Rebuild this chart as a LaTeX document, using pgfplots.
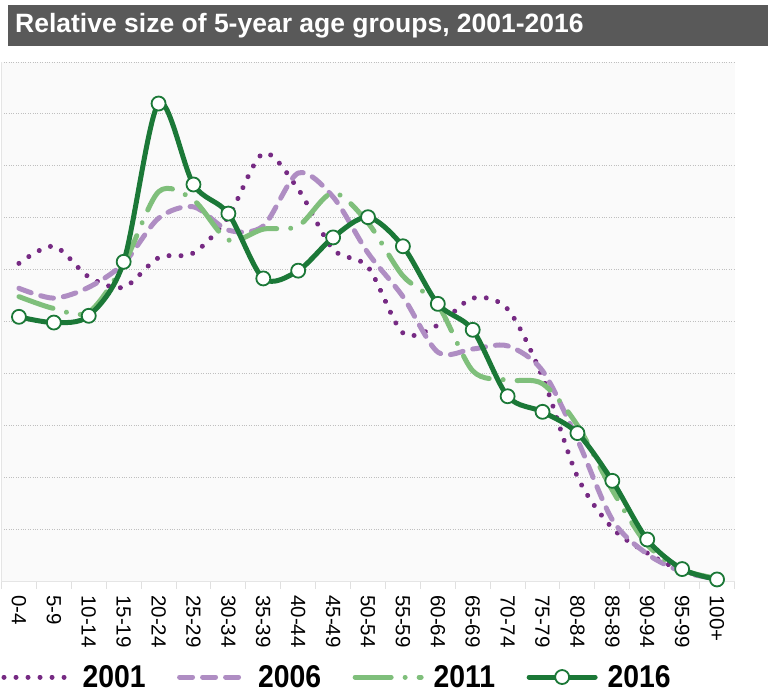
\documentclass[border=0pt]{standalone}
\usepackage{pgfplots}
\usepackage{pgfplotstable}
\pgfplotsset{compat=1.18}
\usepackage{fontspec}
\setmainfont{Liberation Sans}
\newfontfamily\legfont[FakeStretch=0.9]{Liberation Sans Bold}
\definecolor{c01}{HTML}{762A83}
\definecolor{c06}{HTML}{AF8DC3}
\definecolor{c11}{HTML}{7FBF7B}
\definecolor{c16}{HTML}{1B7837}
\definecolor{titlebg}{HTML}{595959}
\definecolor{plotbg}{HTML}{FAFAFA}

\pgfplotstableread{
x  y2001 y2006 y2011 y2016
0  6.12  5.64  5.48  5.09
1  6.45  5.45  5.25  4.98
2  5.86  5.66  5.18  5.11
3  5.66  6.12  6.10  6.15
4  6.23  6.99  7.50  9.20
5  6.32  7.21  7.34  7.64
6  7.02  6.76  6.57  7.08
7  8.24  6.84  6.78  5.83
8  7.55  7.86  6.84  5.98
9  6.39  7.40  7.48  6.62
10 6.05  6.32  6.90  7.01
11 4.78  5.48  5.88  6.45
12 4.93  4.41  5.32  5.34
13 5.45  4.47  4.05  4.84
14 5.24  4.53  3.87  3.56
15 3.93  4.05  3.80  3.26
16 2.01  2.72  3.00  2.85
17 1.02  1.18  1.75  1.93
18 0.54  0.52  0.70  0.80
19 0.20  0.18  0.22  0.23
20 0.05  0.04  0.05  0.03
}\agedata

\begin{document}
\begin{tikzpicture}[x=1pt,y=1pt]
\fill[titlebg] (8,-5) rectangle (768,-46);
\node[anchor=west, text=white, font=\bfseries\fontsize{26.5}{26.5}\selectfont, inner sep=0pt] at (15,-25.5) {Relative size of 5-year age groups, 2001-2016};
\begin{axis}[
  at={(1.5pt,-581pt)}, anchor=south west,
  width=733pt, height=519pt, scale only axis,
  xmin=-0.5, xmax=20.5, ymin=0, ymax=10,
  axis background/.style={fill=plotbg},
  axis x line*=bottom, axis y line*=left,
  axis line style={draw=black!10, line width=1pt},
  ytick={1,...,10}, yticklabels={},
  ymajorgrids, grid style={dotted, draw=black!25, line width=1pt},
  major y tick style={draw=none},
  xtick={0,...,20},
  xticklabels={0-4,5-9,10-14,15-19,20-24,25-29,30-34,35-39,40-44,45-49,50-54,55-59,60-64,65-69,70-74,75-79,80-84,85-89,90-94,95-99,100+},
  minor xtick={-0.5,0.5,...,20.5},
  major x tick style={draw=none},
  minor x tick style={draw=black!12, line width=1pt},
  tick align=outside, minor tick length=8pt, major tick length=0pt,
  xticklabel style={rotate=-90, anchor=west, font=\fontsize{20.5}{20.5}\selectfont, inner sep=0pt},
  xticklabel shift=14pt,
  legend style={at={(axis description cs:0,-0.185)}, anchor=west, draw=none, fill=none,
    inner sep=0pt, outer sep=0pt, legend columns=4,
    font=\legfont\fontsize{31.5}{31.5}\selectfont,
    nodes={inner sep=0pt},
    /tikz/every odd column/.append style={column sep=10pt},
    /tikz/every even column/.append style={column sep=31.5pt}},
  legend cell align=left,
  legend image code/.code={\draw[mark repeat=2,mark phase=2,#1] plot coordinates {(3pt,0pt) (36pt,0pt) (69pt,0pt)};},
  every axis plot/.append style={smooth, line width=5pt, line cap=round, line join=round},
  clip=false,
]
\addplot[c01, dash pattern=on 0.01pt off 12pt] table[x=x,y=y2001] {\agedata};
\addlegendentry{2001}
\addplot[c06, dash pattern=on 13pt off 10pt] table[x=x,y=y2006] {\agedata};
\addlegendentry{2006}
\addplot[c11, dash pattern=on 36pt off 14pt on 0.01pt off 14pt] table[x=x,y=y2011] {\agedata};
\addlegendentry{2011}
\addplot[c16, mark=*, mark size=7pt, mark options={solid, fill=white, draw=c16, line width=1.8pt}] table[x=x,y=y2016] {\agedata};
\addlegendentry{2016}
\end{axis}
\pgfresetboundingbox
\useasboundingbox (0,0) rectangle (768,-694);
\end{tikzpicture}
\end{document}
